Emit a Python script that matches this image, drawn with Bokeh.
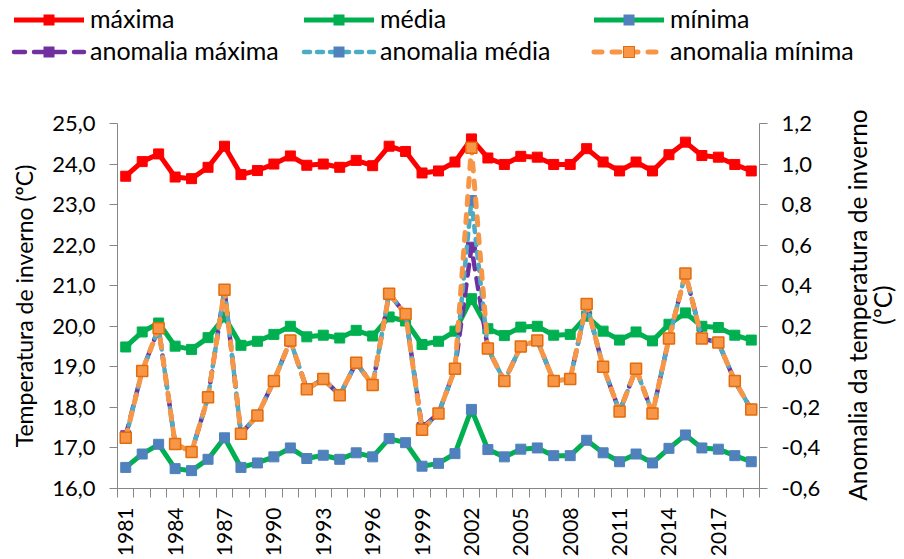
import math
from bokeh.plotting import figure
from bokeh.layouts import column, row
from bokeh.models import Range1d, LinearAxis, FixedTicker, Div
from bokeh.embed import file_html
from bokeh.resources import INLINE

years = list(range(1981, 2020))

maxima = [23.70, 24.06, 24.25, 23.68, 23.64, 23.92, 24.44, 23.74, 23.84, 24.00,
          24.20, 23.97, 24.00, 23.92, 24.09, 23.96, 24.44, 24.31, 23.78, 23.83,
          24.05, 24.62, 24.15, 23.99, 24.19, 24.17, 23.99, 23.99, 24.38, 24.05,
          23.83, 24.05, 23.83, 24.23, 24.54, 24.21, 24.17, 23.99, 23.83]

media = [19.49, 19.86, 20.08, 19.51, 19.43, 19.72, 20.23, 19.53, 19.63, 19.80,
         20.00, 19.74, 19.78, 19.71, 19.90, 19.76, 20.23, 20.13, 19.55, 19.63,
         19.88, 20.68, 19.94, 19.77, 19.98, 20.00, 19.78, 19.80, 20.25, 19.88,
         19.66, 19.86, 19.64, 20.05, 20.33, 20.00, 19.97, 19.78, 19.66]

minima = [16.52, 16.85, 17.09, 16.49, 16.44, 16.72, 17.25, 16.52, 16.63, 16.78,
          17.00, 16.74, 16.82, 16.72, 16.88, 16.78, 17.23, 17.13, 16.55, 16.62,
          16.86, 17.95, 16.96, 16.78, 16.97, 17.00, 16.81, 16.81, 17.19, 16.88,
          16.66, 16.85, 16.63, 16.99, 17.32, 17.00, 16.97, 16.81, 16.66]

anom_maxima = [-0.34, -0.02, 0.19, -0.38, -0.42, -0.15, 0.38, -0.33, -0.24, -0.07,
               0.13, -0.11, -0.06, -0.14, 0.02, -0.09, 0.36, 0.26, -0.30, -0.23,
               -0.01, 0.59, 0.09, -0.07, 0.10, 0.13, -0.07, -0.06, 0.31, 0.00,
               -0.22, -0.01, -0.23, 0.14, 0.46, 0.14, 0.12, -0.07, -0.21]

anom_media = [-0.35, -0.02, 0.19, -0.38, -0.42, -0.15, 0.38, -0.33, -0.24, -0.07,
              0.13, -0.11, -0.06, -0.14, 0.02, -0.09, 0.36, 0.26, -0.31, -0.23,
              -0.01, 0.82, 0.09, -0.07, 0.10, 0.13, -0.07, -0.06, 0.31, 0.00,
              -0.22, -0.01, -0.23, 0.14, 0.46, 0.14, 0.12, -0.07, -0.21]

anom_minima = [-0.35, -0.02, 0.19, -0.38, -0.42, -0.15, 0.38, -0.33, -0.24, -0.07,
               0.13, -0.11, -0.06, -0.14, 0.02, -0.09, 0.36, 0.26, -0.31, -0.23,
               -0.01, 1.08, 0.09, -0.07, 0.10, 0.13, -0.07, -0.06, 0.31, 0.00,
               -0.22, -0.01, -0.23, 0.14, 0.46, 0.14, 0.12, -0.07, -0.21]

series_labels = ["máxima", "média", "mínima",
                 "anomalia máxima", "anomalia média", "anomalia mínima"]

left_title = "Temperatura de inverno (ºC)"
right_title_lines = ["Anomalia da temperatura de inverno", "(ºC)"]

x_tick_years = list(range(1981, 2019, 3))
left_ticks = [16, 17, 18, 19, 20, 21, 22, 23, 24, 25]
right_ticks = [-0.6, -0.4, -0.2, 0.0, 0.2, 0.4, 0.6, 0.8, 1.0, 1.2]

FONT = "Lato"
AXIS_COLOR = "#868686"

# style per series: (line color, line width, dash, marker fill, marker line, marker size)
STYLES = [
    ("#FF0000", 5, "solid", "#FF0000", "#FF0000", 10),
    ("#00B050", 5, "solid", "#00B050", "#00B050", 10),
    ("#00B050", 5, "solid", "#4F81BD", "#4F81BD", 10),
    ("#7030A0", 4.5, "11 9", "#7030A0", "#7030A0", 10),
    ("#4BACC6", 4.5, "6 7", "#4F81BD", "#4F81BD", 10),
    ("#F79646", 5, "8 10", "#F79646", "#E46C0A", 11),
]


def draw(fig, xs, ys, style, y_range_name="default"):
    lc, lw, dash, mf, ml, ms = style
    lr = fig.line(xs, ys, line_color=lc, line_width=lw, line_dash=dash,
                  line_cap="round" if dash != "solid" else "butt",
                  line_join="round", y_range_name=y_range_name)
    mr = fig.scatter(xs, ys, marker="square", size=ms, fill_color=mf,
                     line_color=ml, line_width=1.5 if ml != mf else 1,
                     y_range_name=y_range_name)
    return lr, mr


LEGEND_H = 100
PLOT_H = 559 - LEGEND_H
PLOT_W = 844
TITLE_W = 904 - PLOT_W

# ---------------- main chart
p = figure(width=PLOT_W, height=PLOT_H, output_backend="svg", toolbar_location=None,
           x_range=Range1d(1980.5, 2019.5), y_range=Range1d(16, 25),
           min_border_left=117, min_border_right=PLOT_W - 759, min_border_top=123 - LEGEND_H,
           min_border_bottom=70)
p.outline_line_color = None
p.xgrid.visible = False
p.ygrid.visible = False
p.extra_y_ranges = {"anom": Range1d(-0.6, 1.2)}

main_series = [maxima, media, minima]
anom_series = [anom_maxima, anom_media, anom_minima]
for vals, st in zip(main_series, STYLES[:3]):
    draw(p, years, vals, st)
for vals, st in zip(anom_series, STYLES[3:]):
    draw(p, years, vals, st, y_range_name="anom")

xa = p.xaxis[0]
xa.ticker = FixedTicker(ticks=x_tick_years,
                        minor_ticks=[y - 0.5 for y in years] + [years[-1] + 0.5])
xa.major_label_orientation = math.pi / 2
xa.major_tick_out = 0
xa.major_tick_in = 0
xa.minor_tick_out = 9
xa.minor_tick_in = 0
xa.minor_tick_line_color = AXIS_COLOR
xa.axis_line_color = AXIS_COLOR
xa.major_label_standoff = 10
xa.major_label_text_font = FONT
xa.major_label_text_font_size = "21px"
xa.major_label_text_color = "black"

ya = p.yaxis[0]
ya.ticker = FixedTicker(ticks=left_ticks, minor_ticks=[])
ya.major_label_overrides = {t: f"{t:.1f}".replace(".", ",") for t in left_ticks}
ya.axis_label = left_title
ya.axis_label_text_font_size = "23px"
ya.axis_label_standoff = 11
ya.axis_label_text_font = FONT
ya.axis_label_text_font_style = "normal"
ya.axis_label_text_color = "black"

yr = LinearAxis(y_range_name="anom")
yr.ticker = FixedTicker(ticks=right_ticks, minor_ticks=[])
yr.major_label_overrides = {t: f"{t:.1f}".replace(".", ",") for t in right_ticks}
p.add_layout(yr, "right")

for ax in [ya, yr]:
    ax.major_tick_out = 8
    ax.major_tick_in = 0
    ax.minor_tick_out = 0
    ax.minor_tick_in = 0
    ax.major_tick_line_color = AXIS_COLOR
    ax.axis_line_color = AXIS_COLOR
    ax.major_label_text_font = FONT
    ax.major_label_text_font_size = "22px"
    ax.major_label_text_color = "black"
    ax.major_label_standoff = 14

# ---------------- right axis title (rotated, two centred lines)
title_html = (
    f'<div style="position:relative;width:{TITLE_W}px;height:{PLOT_H}px;">'
    f'<div style="position:absolute;left:26px;top:{305 - LEGEND_H}px;'
    'transform:translate(-50%,-50%) rotate(-90deg);white-space:nowrap;text-align:center;'
    f'font-family:{FONT};font-size:24.5px;line-height:25px;color:black;">'
    + "<br>".join(right_title_lines) + '</div></div>'
)
title_div = Div(text=title_html, width=TITLE_W, height=PLOT_H, margin=0)

# ---------------- legend strip (two rows of three entries)
COL_X = [14, 304, 594]
ROW_Y = [20, 52]
parts = []
for i, (lab, st) in enumerate(zip(series_labels, STYLES)):
    lc, lw, dash, mf, ml, ms = st
    x0 = COL_X[i % 3]
    yc = ROW_Y[i // 3]
    dash_attr = "" if dash == "solid" else f' stroke-dasharray="{dash}" stroke-linecap="round"'
    parts.append(f'<line x1="{x0}" y1="{yc}" x2="{x0 + 70}" y2="{yc}" stroke="{lc}" '
                 f'stroke-width="{lw}"{dash_attr}/>')
    parts.append(f'<rect x="{x0 + 35 - ms / 2}" y="{yc - ms / 2}" width="{ms}" height="{ms}" '
                 f'fill="{mf}" stroke="{ml}" stroke-width="1"/>')
    parts.append(f'<text x="{x0 + 76}" y="{yc + 8}" '
                 f'style="font-family:{FONT};font-size:25px;fill:black">{lab}</text>')
svg = (f'<svg xmlns="http://www.w3.org/2000/svg" width="904" height="{LEGEND_H}" '
       'style="display:block">' + "".join(parts) + '</svg>')
legend_div = Div(text=svg, width=904, height=LEGEND_H, margin=0)

layout = column(legend_div, row(p, title_div, spacing=0), spacing=0)
open("out.html", "w").write(file_html(layout, INLINE))
